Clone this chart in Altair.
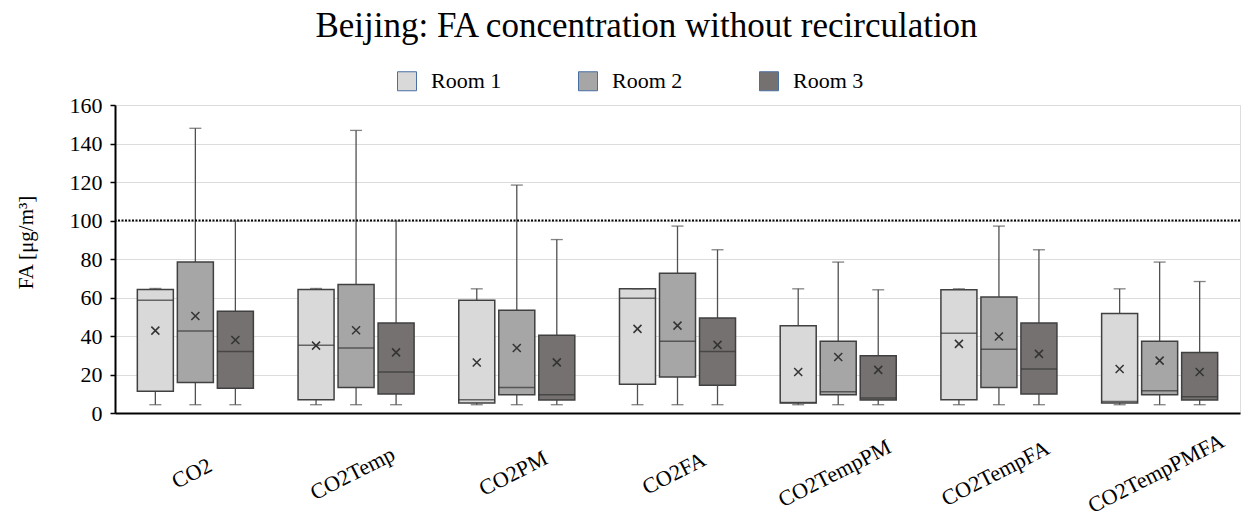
import altair as alt
import pandas as pd

categories = ["CO2", "CO2Temp", "CO2PM", "CO2FA", "CO2TempPM", "CO2TempFA", "CO2TempPMFA"]
rooms = ["Room 1", "Room 2", "Room 3"]
room_colors = ["#d9d9d9", "#a6a6a6", "#767171"]

room1_min = [4.3, 4.3, 4.3, 4.3, 4.3, 4.3, 4.3]
room1_q1 = [11.3, 6.9, 5.2, 14.9, 5.2, 6.9, 5.2]
room1_med = [58.6, 35.2, 6.9, 59.6, 5.5, 41.4, 6.0]
room1_q3 = [64.1, 64.1, 58.6, 64.5, 45.3, 64.0, 51.7]
room1_max = [64.7, 64.7, 64.5, 64.5, 64.5, 64.5, 64.5]
room1_mean = [42.8, 35.0, 26.2, 43.7, 21.3, 35.9, 22.9]

room2_min = [4.3, 4.3, 4.3, 4.3, 4.3, 4.3, 4.3]
room2_q1 = [15.9, 13.3, 9.5, 18.7, 9.5, 13.3, 9.5]
room2_med = [42.6, 33.8, 13.3, 37.3, 11.1, 33.1, 11.6]
room2_q3 = [78.4, 66.7, 53.4, 72.6, 37.3, 60.3, 37.3]
room2_max = [147.9, 146.8, 118.4, 97.1, 78.4, 97.1, 78.4]
room2_mean = [50.4, 43.0, 33.8, 45.4, 29.1, 39.7, 27.2]

room3_min = [4.3, 4.3, 4.3, 4.3, 4.3, 4.3, 4.3]
room3_q1 = [12.8, 9.9, 6.8, 14.4, 6.8, 9.9, 6.8]
room3_med = [31.9, 21.3, 9.5, 31.9, 7.8, 22.9, 8.5]
room3_q3 = [52.9, 46.8, 40.4, 49.4, 29.8, 46.8, 31.4]
room3_max = [99.7, 99.7, 90.1, 84.8, 64.0, 84.8, 68.3]
room3_mean = [37.9, 31.5, 26.3, 35.4, 22.4, 30.7, 21.3]

threshold = [100]
y_ticks = [0, 20, 40, 60, 80, 100, 120, 140, 160]

stats = {
    "Room 1": (room1_min, room1_q1, room1_med, room1_q3, room1_max, room1_mean),
    "Room 2": (room2_min, room2_q1, room2_med, room2_q3, room2_max, room2_mean),
    "Room 3": (room3_min, room3_q1, room3_med, room3_q3, room3_max, room3_mean),
}
rows = []
for room, (mn, q1, md, q3, mx, me) in stats.items():
    for i, c in enumerate(categories):
        rows.append({"category": c, "room": room, "min": mn[i], "q1": q1[i],
                     "median": md[i], "q3": q3[i], "max": mx[i], "mean": me[i]})
df = pd.DataFrame(rows)

FONT = "Liberation Serif"
ytitle = "FA [μg/m³]"
yscale = alt.Scale(domain=[0, 160], nice=False, zero=True)
yaxis = alt.Axis(values=y_ticks, labelFont=FONT, labelFontSize=22, labelColor="black",
                 titleFont=FONT, titleFontSize=21, titleFontWeight="normal", titleColor="black",
                 titlePadding=33, labelPadding=8, tickSize=5, tickWidth=1.5, tickColor="black",
                 domainColor="black", domainWidth=2, gridColor="#dcdcdc", gridWidth=1,
                 titleY=137)


def Y(field):
    return alt.Y(field, scale=yscale, axis=yaxis, title=ytitle)


xenc = alt.X("category:N", sort=categories, title=None,
             scale=alt.Scale(paddingInner=0.278, paddingOuter=0.139),
             axis=alt.Axis(labelAngle=-27, labelAlign="center", labelBaseline="top",
                           labelFont=FONT, labelFontSize=22, labelColor="black",
                           labelPadding=51, labelOffset=-8, ticks=False, labelOverlap=False,
                           domainColor="black", domainWidth=2, grid=False))
xoff = alt.XOffset("room:N", sort=rooms, scale=alt.Scale(paddingInner=0.1, paddingOuter=0))

base = alt.Chart(df).encode(x=xenc, xOffset=xoff)

thr = alt.Chart(pd.DataFrame({"v": threshold})).mark_rule(
    color="black", strokeDash=[2, 1.5], strokeWidth=2).encode(y=Y("v:Q"))

whisk = base.mark_rule(color="#505050", strokeWidth=1.3).encode(y=Y("min:Q"), y2="max:Q")
cap_top = base.mark_tick(color="#505050", thickness=1.3, size=12).encode(y=Y("max:Q"))
cap_bot = base.mark_tick(color="#505050", thickness=1.3, size=12).encode(y=Y("min:Q"))
box = base.mark_bar(stroke="#404040", strokeWidth=1.5).encode(
    y=Y("q1:Q"), y2="q3:Q",
    fill=alt.Fill("room:N", sort=rooms, scale=alt.Scale(domain=rooms, range=room_colors),
                  legend=alt.Legend(orient="none", legendX=281, legendY=-35, direction="horizontal",
                                    title=None, symbolType="square", symbolSize=361,
                                    symbolStrokeColor="#4a6fa5", symbolStrokeWidth=1,
                                    labelFont=FONT, labelFontSize=22, labelColor="black",
                                    labelOffset=13, columnPadding=74, padding=0)))
med = base.mark_tick(color="#333333", thickness=1.5, size=36).encode(y=Y("median:Q"))
mean = base.mark_point(shape="M-1,-1L1,1M-1,1L1,-1", size=64, filled=False,
                       color="#333333", strokeWidth=1.5, opacity=1).encode(y=Y("mean:Q"))

chart = alt.layer(whisk, thr, box, med, cap_top, cap_bot, mean).properties(
    width=1125, height=308,
    autosize=alt.AutoSizeParams(type="none"),
    padding={"left": 115, "top": 105, "right": 3, "bottom": 105},
    title=alt.TitleParams("Beijing: FA concentration without recirculation", font=FONT,
                          fontSize=35, fontWeight="normal", color="black", anchor="middle",
                          frame="group", baseline="alphabetic", offset=1, dx=-31, dy=3),
).configure_view(stroke=None).configure(background="white")

chart.save("out.html", embed_options={"renderer": "svg", "actions": False})
